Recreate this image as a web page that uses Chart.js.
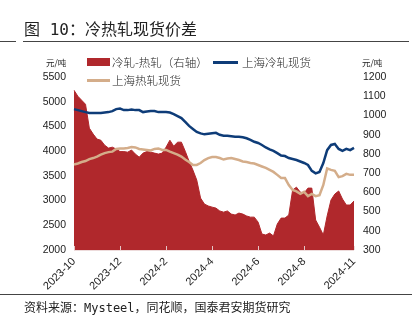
<!DOCTYPE html>
<html><head><meta charset="utf-8">
<script src="https://cdn.jsdelivr.net/npm/chart.js@4.4.0/dist/chart.umd.min.js"></script>
<style>
html,body{margin:0;padding:0;background:#fff;}
#wrap{position:relative;width:420px;height:326px;overflow:hidden;font-family:"Noto Sans CJK SC",sans-serif;color:#222;}
canvas{position:absolute;left:0;top:0;}
.t{position:absolute;white-space:nowrap;}
.ln{position:absolute;}
</style></head><body>
<div id="wrap">
<canvas id="c" width="420" height="326"></canvas>
<div class="t" style="left:24px;top:19px;font-size:16px;line-height:22px;font-family:'DejaVu Sans Mono','Noto Sans CJK SC',sans-serif;">图 10：冷热轧现货价差</div>
<div class="ln" style="left:0;top:41px;width:16px;height:1px;background:#444"></div>
<div class="ln" style="left:23px;top:41px;width:386px;height:1px;background:#444"></div>

<div class="t" style="left:46px;top:56px;font-size:8.5px;line-height:12px;">元/吨</div>
<div class="t" style="left:362px;top:56px;font-size:8.5px;line-height:12px;">元/吨</div>

<div class="ln" style="left:87px;top:58px;width:23px;height:8px;background:#B0282C"></div>
<div class="t" style="left:112px;top:54px;font-size:11.5px;line-height:16px;font-weight:300;">冷轧-热轧（右轴）</div>
<div class="ln" style="left:213px;top:61px;width:25px;height:2.5px;background:#0E3C78"></div>
<div class="t" style="left:242px;top:54px;font-size:11.5px;line-height:16px;font-weight:300;">上海冷轧现货</div>
<div class="ln" style="left:87px;top:79px;width:23px;height:2.5px;background:#D4AD8A"></div>
<div class="t" style="left:112px;top:72px;font-size:11.5px;line-height:16px;font-weight:300;">上海热轧现货</div>

<div class="ln" style="left:0;top:294px;width:412px;height:1px;background:#444"></div>
<div class="t" style="left:24px;top:300px;font-size:12px;line-height:17px;font-family:'DejaVu Sans Mono','Noto Sans CJK SC',sans-serif;">资料来源：Mysteel，同花顺，国泰君安期货研究</div>
</div>
<script>
const tickLabels = ['2023-10','2023-12','2024-2','2024-4','2024-6','2024-8','2024-11'];
const tickIndex = [0,12,24,36,48,60,73];

const coldRolled = [4850,4830,4810,4790,4770,4770,4770,4770,4780,4790,
  4810,4850,4860,4830,4830,4840,4830,4830,4790,4800,
  4810,4810,4790,4790,4790,4780,4750,4710,4670,4590,
  4510,4450,4390,4360,4340,4350,4360,4370,4330,4310,
  4310,4300,4290,4290,4280,4260,4230,4190,4165,4125,
  4075,4035,4005,3960,3910,3900,3860,3840,3820,3790,
  3760,3720,3600,3550,3580,3760,4020,4125,4145,4045,
  4005,4045,4020,4065];

const hotRolled = [3730,3750,3780,3800,3840,3860,3890,3930,3960,3980,
  3990,4045,4055,4055,4065,4085,4075,4045,4035,4025,
  4015,4045,4055,4025,4025,3990,3960,3930,3890,3830,
  3780,3720,3720,3760,3820,3860,3880,3880,3860,3830,
  3850,3860,3840,3820,3790,3780,3760,3750,3720,3690,
  3660,3620,3580,3520,3455,3455,3315,3215,3185,3135,
  3175,3090,3135,3090,3110,3315,3650,3620,3600,3475,
  3495,3540,3520,3520];

const spread = [1131,1100,1079,1058,934,903,877,871,845,830,
  835,825,812,812,809,820,799,783,804,812,
  809,804,799,804,835,871,840,861,861,814,
  762,716,664,570,539,529,523,518,503,497,
  503,487,482,492,487,477,471,471,445,383,
  378,388,373,435,466,466,482,612,627,601,
  596,622,622,456,419,378,477,560,591,607,
  565,534,534,555];

const categories = coldRolled.map((_, i) => {
  const k = tickIndex.indexOf(i);
  return k >= 0 ? tickLabels[k] : '';
});

const innerTicks = {
  id: 'innerTicks',
  afterDatasetsDraw(chart) {
    const x = chart.scales.x, ctx = chart.ctx, b = chart.chartArea.bottom;
    ctx.save();
    ctx.strokeStyle = 'rgba(235,215,215,0.9)';
    ctx.lineWidth = 1;
    tickIndex.forEach(i => {
      const px = Math.round(x.getPixelForValue(i)) + 0.5;
      ctx.beginPath(); ctx.moveTo(px, b); ctx.lineTo(px, b - 4); ctx.stroke();
    });
    ctx.beginPath(); ctx.moveTo(chart.chartArea.left, b + 0.5); ctx.lineTo(chart.chartArea.right, b + 0.5); ctx.stroke();
    ctx.restore();
  }
};

const plain = v => String(v);

new Chart(document.getElementById('c'), {
  type: 'line',
  data: {
    labels: categories,
    datasets: [
      { label: '上海冷轧现货', data: coldRolled, yAxisID: 'y', borderColor: '#0E3C78', borderWidth: 2.5, pointRadius: 0, fill: false, order: 1 },
      { label: '上海热轧现货', data: hotRolled, yAxisID: 'y', borderColor: '#D4AD8A', borderWidth: 2.5, pointRadius: 0, fill: false, order: 2 },
      { label: '冷轧-热轧（右轴）', data: spread, yAxisID: 'y1', borderColor: '#B0282C', backgroundColor: '#B0282C', borderWidth: 1, pointRadius: 0, fill: 'start', order: 3 }
    ]
  },
  options: {
    responsive: false,
    animation: false,
    layout: { padding: { top: 77, left: 0, right: 0, bottom: 0 } },
    plugins: { legend: { display: false }, tooltip: { enabled: false } },
    scales: {
      x: {
        grid: { display: false, drawTicks: false },
        border: { display: false },
        ticks: { autoSkip: false, maxRotation: 45, minRotation: 45, padding: 5, color: '#222', font: { family: 'Liberation Sans, Arial', size: 11 } },
        afterFit(s) { s.height = 76; }
      },
      y: {
        position: 'left', min: 2000, max: 5500,
        grid: { display: false, drawTicks: false },
        border: { display: false },
        ticks: { stepSize: 500, padding: 8, color: '#222', callback: plain, font: { family: 'Liberation Sans, Arial', size: 10.5 } },
        afterFit(s) { s.width = 74; }
      },
      y1: {
        position: 'right', min: 300, max: 1200,
        grid: { display: false, drawTicks: false },
        border: { display: false },
        ticks: { stepSize: 100, padding: 9, color: '#222', callback: plain, font: { family: 'Liberation Sans, Arial', size: 10.5 } },
        afterFit(s) { s.width = 66; }
      }
    }
  },
  plugins: [innerTicks]
});
</script>
</body></html>
